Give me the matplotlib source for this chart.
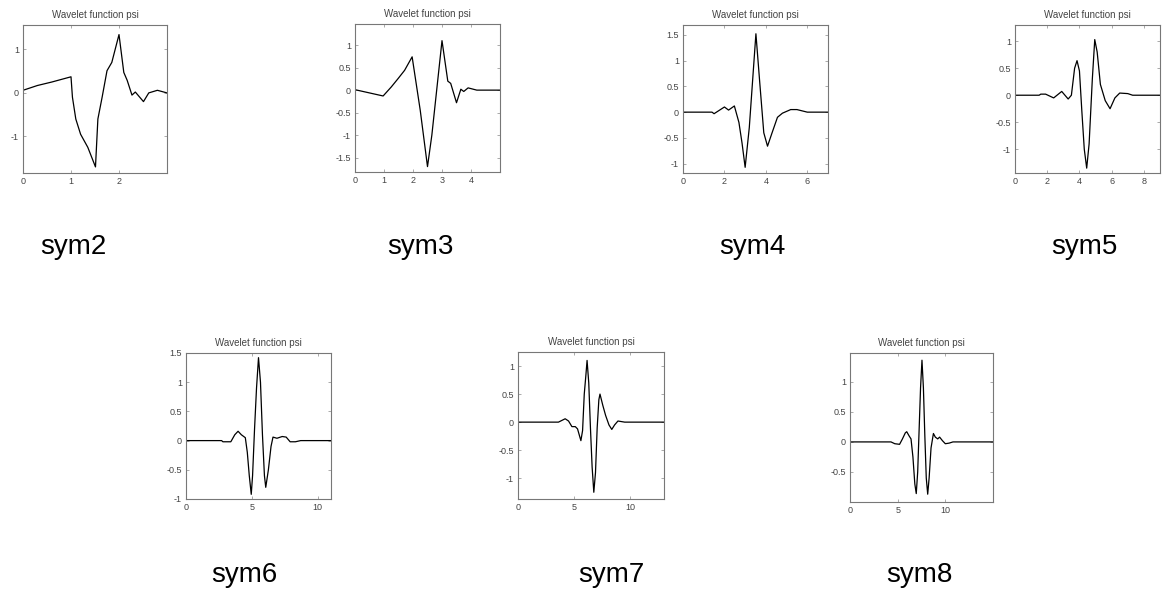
"""
Symlet wavelet functions psi (sym2 .. sym8), MATLAB wavefun style panels
"""
import numpy as np
import matplotlib
matplotlib.use('Agg')
import matplotlib.pyplot as plt

plt.rcParams['font.family'] = ['Liberation Sans', 'DejaVu Sans']

# 曲线数据
sym2_x = [0, 0.3, 0.6, 1.0, 1.03, 1.1, 1.2, 1.35, 1.51, 1.56, 1.65, 1.75, 1.85, 2.0,
          2.1, 2.17, 2.27, 2.34, 2.51, 2.62, 2.8, 3.0]
sym2_y = [0.06, 0.17, 0.25, 0.37, -0.1, -0.6, -0.95, -1.25, -1.7, -0.6, -0.09, 0.51, 0.7, 1.34,
          0.47, 0.29, -0.05, 0.02, -0.2, 0.0, 0.06, 0.0]

sym3_x = [0, 0.97, 1.25, 1.49, 1.71, 1.97, 2.25, 2.5, 2.65, 3.0, 3.2, 3.3, 3.5, 3.65,
          3.75, 3.9, 4.2, 5.0]
sym3_y = [0.01, -0.13, 0.07, 0.26, 0.44, 0.74, -0.45, -1.7, -1.0, 1.1, 0.2, 0.15, -0.28, 0.02,
          -0.03, 0.05, 0.0, 0.0]

sym4_x = [0, 1.4, 1.5, 2.0, 2.2, 2.48, 2.7, 2.85, 3.0, 3.2, 3.52, 3.7, 3.9, 4.08,
          4.3, 4.56, 4.8, 5.2, 5.5, 6.0, 7.0]
sym4_y = [0, 0, -0.03, 0.1, 0.04, 0.12, -0.2, -0.6, -1.07, -0.3, 1.52, 0.6, -0.4, -0.66,
          -0.4, -0.1, -0.02, 0.05, 0.05, 0.0, 0.0]

sym5_x = [0, 1.5, 1.6, 1.9, 2.4, 2.9, 3.3, 3.5, 3.7, 3.85, 4.0, 4.15, 4.3, 4.45, 4.6,
          4.8, 4.95, 5.1, 5.3, 5.6, 5.9, 6.2, 6.5, 7.0, 7.3, 9.0]
sym5_y = [0, 0, 0.02, 0.02, -0.05, 0.07, -0.07, 0.0, 0.5, 0.64, 0.45, -0.3, -1.0, -1.35, -0.9,
          0.3, 1.03, 0.8, 0.2, -0.1, -0.25, -0.05, 0.04, 0.03, 0.0, 0.0]

sym6_x = [0, 2.7, 2.8, 3.4, 3.7, 3.95, 4.2, 4.5, 4.65, 4.8, 4.95, 5.05, 5.2, 5.35, 5.5,
          5.65, 5.8, 5.95, 6.05, 6.25, 6.45, 6.6, 6.9, 7.3, 7.6, 7.9, 8.3, 8.7, 11.0]
sym6_y = [0, 0, -0.02, -0.02, 0.1, 0.16, 0.1, 0.05, -0.2, -0.6, -0.92, -0.6, 0.2, 0.9, 1.42,
          1.0, 0.1, -0.6, -0.8, -0.5, -0.1, 0.06, 0.04, 0.07, 0.06, -0.02, -0.02, 0.0, 0.0]

sym7_x = [0, 3.6, 3.9, 4.2, 4.5, 4.8, 5.1, 5.3, 5.6, 5.75, 5.9, 6.05, 6.15, 6.3, 6.45,
          6.6, 6.75, 6.9, 7.05, 7.2, 7.3, 7.55, 7.8, 8.1, 8.35, 8.6, 8.9, 9.2, 9.5, 13.0]
sym7_y = [0, 0, 0.03, 0.06, 0.02, -0.08, -0.08, -0.12, -0.33, -0.15, 0.5, 0.85, 1.1, 0.7, -0.1,
          -0.8, -1.25, -0.9, -0.1, 0.4, 0.5, 0.3, 0.12, -0.05, -0.13, -0.05, 0.02, 0.01, 0.0, 0.0]

sym8_x = [0, 4.3, 4.7, 5.2, 5.5, 5.8, 5.95, 6.2, 6.4, 6.6, 6.8, 6.95, 7.1, 7.25, 7.4, 7.55,
          7.7, 7.85, 8.0, 8.15, 8.3, 8.5, 8.75, 8.95, 9.2, 9.4, 9.7, 10.0, 10.4, 10.8, 15.0]
sym8_y = [0, 0, -0.03, -0.04, 0.05, 0.15, 0.17, 0.1, 0.05, -0.25, -0.7, -0.86, -0.5, 0.2, 0.9, 1.36,
          0.9, 0.1, -0.6, -0.87, -0.6, -0.1, 0.14, 0.08, 0.05, 0.08, 0.02, -0.03, -0.02, 0.0, 0.0]

names = ['sym2', 'sym3', 'sym4', 'sym5', 'sym6', 'sym7', 'sym8']
curves = [(sym2_x, sym2_y), (sym3_x, sym3_y), (sym4_x, sym4_y), (sym5_x, sym5_y),
          (sym6_x, sym6_y), (sym7_x, sym7_y), (sym8_x, sym8_y)]
x_max = [3, 5, 7, 9, 11, 13, 15]
y_lims = [(-1.84, 1.56), (-1.82, 1.47), (-1.18, 1.69), (-1.44, 1.3),
          (-1.0, 1.5), (-1.37, 1.25), (-1.0, 1.48)]
x_ticks = [[0, 1, 2], [0, 1, 2, 3, 4], [0, 2, 4, 6], [0, 2, 4, 6, 8],
           [0, 5, 10], [0, 5, 10], [0, 5, 10]]
y_ticks = [[-1, 0, 1], [-1.5, -1, -0.5, 0, 0.5, 1], [-1, -0.5, 0, 0.5, 1, 1.5],
           [-1, -0.5, 0, 0.5, 1], [-1, -0.5, 0, 0.5, 1, 1.5], [-1, -0.5, 0, 0.5, 1],
           [-0.5, 0, 0.5, 1]]

W, H = 1168, 597
# 坐标轴位置 (像素: 左, 上, 右, 下)
boxes = [(23, 25, 167, 173), (355, 24, 500, 172), (683, 25, 828, 173), (1015, 25, 1160, 173),
         (186, 353, 331, 499), (518, 352, 664, 499), (850, 353, 993, 502)]
label_pos = [(73, 247), (420, 247), (752, 247), (1084, 247),
             (244, 575), (611, 575), (919, 575)]


def fmt(v):
    return f'{v:g}'


fig = plt.figure(figsize=(W / 100, H / 100), dpi=100)
fig.patch.set_facecolor('white')

for i, name in enumerate(names):
    l, t, r, b = boxes[i]
    ax = fig.add_axes([l / W, 1 - b / H, (r - l) / W, (b - t) / H])
    x, y = curves[i]
    ax.plot(x, y, color='black', linewidth=0.9)
    ax.set_xlim(0, x_max[i])
    ax.set_ylim(*y_lims[i])
    ax.set_xticks(x_ticks[i])
    ax.set_xticklabels([fmt(v) for v in x_ticks[i]])
    ax.set_yticks(y_ticks[i])
    ax.set_yticklabels([fmt(v) for v in y_ticks[i]])
    ax.tick_params(direction='in', length=2.5, width=0.5, labelsize=6.5,
                   colors='#888888', labelcolor='#444444', top=True, right=True, pad=3)
    for sp in ax.spines.values():
        sp.set_color('#777777')
        sp.set_linewidth(0.8)
    ax.set_title('Wavelet function psi', fontsize=7, color='#444444', pad=5)

    lx, ly = label_pos[i]
    fig.text(lx / W, 1 - ly / H, name, fontsize=20, ha='center', va='center', color='black')

plt.savefig('out.png', dpi=100)
plt.close()
